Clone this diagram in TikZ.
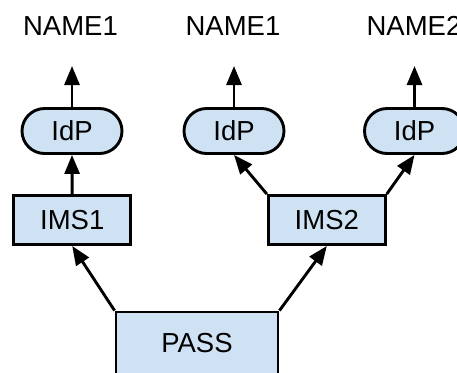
\documentclass[tikz,border=0pt]{standalone}
\usepackage{fontspec}
\setmainfont{Liberation Sans}
\usetikzlibrary{arrows.meta,shapes.misc}
\definecolor{boxfill}{HTML}{CFE2F3}
\tikzset{
  base/.style={draw=black, line width=2.9bp, fill=boxfill, inner sep=0pt,
    font=\fontsize{27.5bp}{32bp}\selectfont},
  idp/.style={base, rounded rectangle, minimum width=100bp, minimum height=45bp},
  ims/.style={base, rectangle, minimum width=117bp, minimum height=49bp},
  passbox/.style={base, rectangle, minimum width=162bp, minimum height=62bp},
  label/.style={inner sep=0pt, font=\fontsize{27.5bp}{32bp}\selectfont},
  link/.style={line width=2.9bp, -{Triangle[length=19bp,width=15bp]}}
}
\begin{document}
\begin{tikzpicture}[x=1bp,y=-1bp]
  \useasboundingbox (0,0) rectangle (457,372);

  % labels on top
  \node[label] (n1) at (70.5,26) {NAME1};
  \node[label] (n2) at (233,26) {NAME1};
  \node[label] (n3) at (414,26) {NAME2};

  % identity providers
  \node[idp] (idp1) at (72,131) {IdP};
  \node[idp] (idp2) at (234,131) {IdP};
  \node[idp] (idp3) at (414.5,131) {IdP};

  % identity management systems
  \node[ims] (ims1) at (72.2,220) {IMS1};
  \node[ims] (ims2) at (326.8,220) {IMS2};

  % root
  \node[passbox] (pass) at (197,343) {PASS};

  % free ends of the upward arrows
  \coordinate (t1) at (72,66);
  \coordinate (t2) at (234,66);
  \coordinate (t3) at (414.5,66);

  \draw[link] (idp1.north) -- (t1);
  \draw[link] (idp2.north) -- (t2);
  \draw[link] (idp3.north) -- (t3);

  \draw[link] (ims1.north) -- (idp1.south);
  \draw[link] (ims2.north west) -- (idp2.south);
  \draw[link] (ims2.north east) -- (idp3.south);

  \draw[link] (pass.north west) -- (ims1.south);
  \draw[link] (pass.north east) -- (ims2.south);
\end{tikzpicture}
\end{document}
